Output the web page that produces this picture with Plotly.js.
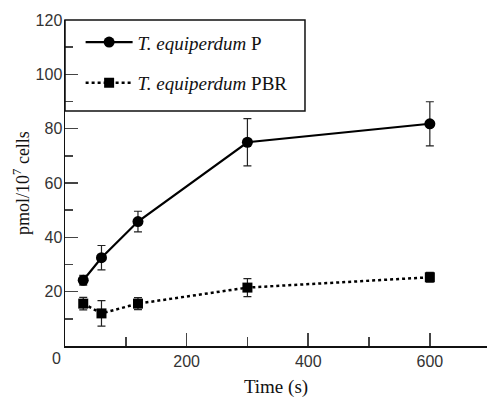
<!DOCTYPE html>
<html><head><meta charset="utf-8">
<script src="https://cdn.plot.ly/plotly-3.0.1.min.js"></script>
<style>body{margin:0;background:#fff}#c{width:487px;height:398px}</style>
</head><body><div id="c"></div>
<script>
const time = [30, 60, 120, 300, 600];
const pValues = [24.2, 32.5, 45.8, 75.0, 81.8];
const pErrors = [1.8, 4.5, 3.8, 8.7, 8.1];
const pbrValues = [15.6, 12.0, 15.6, 21.5, 25.3];
const pbrErrors = [2.3, 4.7, 2.2, 3.3, 1.8];
const seriesNames = ['<i>T. equiperdum</i> P', '<i>T. equiperdum</i> PBR'];
const xTickVals = [200, 400, 600];
const yTickVals = [20, 40, 60, 80, 100, 120];

const serif = 'Liberation Serif, Times New Roman, serif';
const sans = 'Liberation Sans, Arial, sans-serif';

const traces = [
  {x: time, y: pValues, name: seriesNames[0], type: 'scatter', mode: 'lines+markers',
   legendgroup: 'a',
   line: {color: '#000', width: 2.2, dash: 'solid'},
   marker: {symbol: 'circle', size: 11, color: '#000'},
   error_y: {type: 'data', array: pErrors, visible: true, color: '#222', thickness: 1.2, width: 4}},
  {x: time, y: pbrValues, name: seriesNames[1], type: 'scatter', mode: 'lines+markers',
   legendgroup: 'b',
   line: {color: '#000', width: 2.5, dash: 'dot'},
   marker: {symbol: 'square', size: 10, color: '#000'},
   error_y: {type: 'data', array: pbrErrors, visible: true, color: '#222', thickness: 1.2, width: 4}}
];

const layout = {
  width: 487, height: 398,
  margin: {l: 65, r: 0, t: 20, b: 52},
  paper_bgcolor: '#fff', plot_bgcolor: '#fff',
  showlegend: true,
  legend: {x: 0.037, y: 0.99, xanchor: 'left', yanchor: 'top', bgcolor: 'rgba(0,0,0,0)',
           borderwidth: 0, font: {family: serif, size: 19, color: '#111'},
           traceorder: 'grouped', tracegroupgap: 13, itemwidth: 47},
  xaxis: {range: [0, 694], tickvals: xTickVals, ticktext: xTickVals.map(String),
          ticks: 'inside', ticklen: 13, tickwidth: 1.5, tickcolor: '#444',
          minor: {dtick: 100, tick0: 0, ticks: 'inside', ticklen: 9, tickwidth: 1.5, tickcolor: '#444', showgrid: false},
          showline: true, linecolor: '#111', linewidth: 1.5, showgrid: false, zeroline: false,
          tickfont: {family: sans, size: 16, color: '#333'},
          title: {text: 'Time (s)', font: {family: serif, size: 19, color: '#111'}, standoff: 16}},
  yaxis: {range: [0, 120], tickvals: yTickVals, ticktext: yTickVals.map(String),
          ticks: 'inside', ticklen: 13, tickwidth: 1.5, tickcolor: '#444',
          minor: {dtick: 10, tick0: 0, ticks: 'inside', ticklen: 8, tickwidth: 1.5, tickcolor: '#444', showgrid: false},
          showline: true, linecolor: '#111', linewidth: 1.5, showgrid: false, zeroline: false,
          tickfont: {family: sans, size: 16, color: '#333'}, ticklabelstandoff: -2,
          title: {text: 'pmol/10<sup>7</sup> cells', font: {family: serif, size: 18, color: '#111'}, standoff: 1}},
  shapes: [
    {type: 'rect', xref: 'paper', yref: 'paper', x0: 0, x1: 0.5687, y0: 0.7209, y1: 1,
     line: {color: '#111', width: 1.5}, fillcolor: 'rgba(0,0,0,0)'}
  ],
  annotations: [
    {text: '0', xref: 'paper', yref: 'paper', x: -0.004, y: -0.005, xanchor: 'right', yanchor: 'top',
     showarrow: false, font: {family: sans, size: 16, color: '#333'}}
  ]
};

Plotly.newPlot('c', traces, layout, {staticPlot: true, displayModeBar: false});
</script>
</body></html>
